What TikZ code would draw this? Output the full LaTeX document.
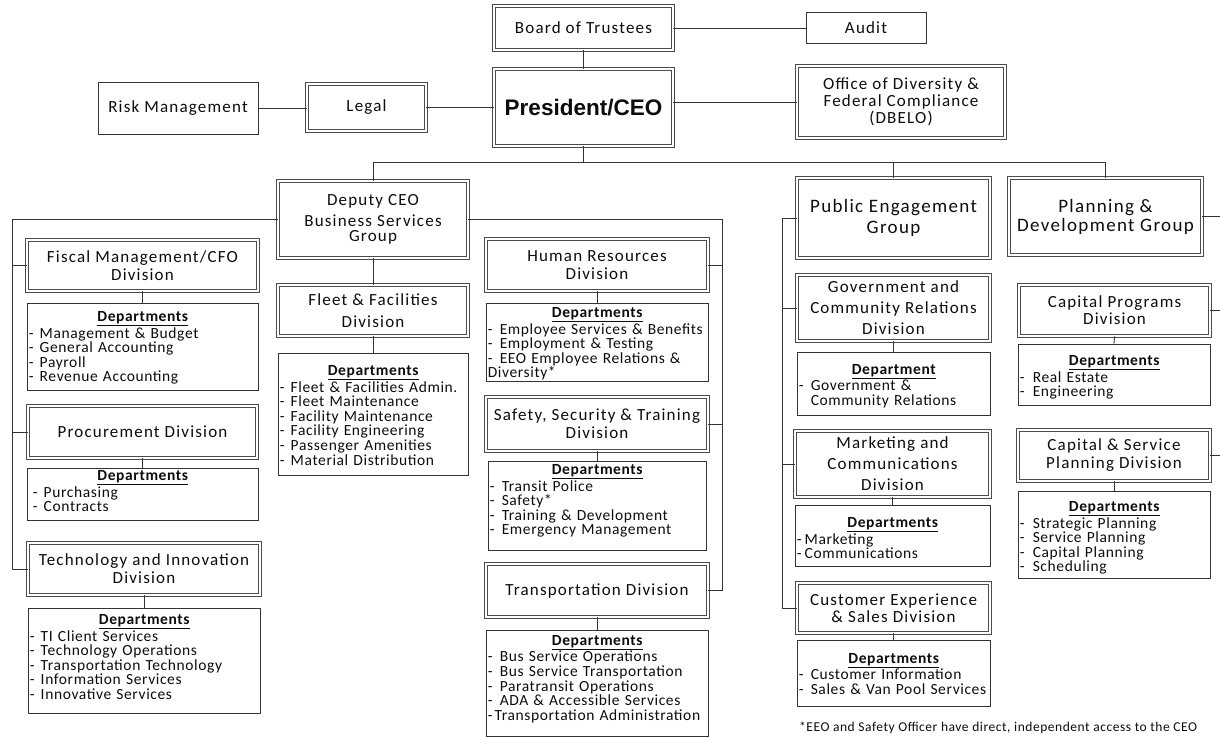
\documentclass[tikz,border=0pt]{standalone}
\usepackage{fontspec}
\setmainfont{Carlito}
\newfontfamily\tfont{Carlito}[LetterSpace=7]
\newfontfamily\lfont{Carlito}[LetterSpace=4]
\newfontfamily\pfont{Liberation Sans}
\usetikzlibrary{calc}
\newcommand\mkbox[7]{\node[#2, minimum width={#5-#3}, minimum height={#6-#4}] (#1) at ({(#3+#5)/2},{(#4+#6)/2}) {#7};}
\newcommand\dept[7]{\pgfmathsetmacro\tw{#4-#2-3}%
  \node[frame, minimum width={#4-#2}, minimum height={#5-#3}] (#1) at ({(#2+#4)/2},{(#3+#5)/2}) {};
  \node[list, text width=\tw pt, anchor=north west] (#1t) at ($(#1.north west)+(2,#6+3)$) {#7};}
\newcommand\dhead[1][Departments]{{\centering\textbf{\underline{#1}}\par}}
\newcommand\ditem[2][11]{\makebox[#1pt][l]{-}#2\par}
\tikzset{
  x=1pt, y=-1pt,
  dbl/.style={draw=black!70, line width=0.7pt, double=white, double distance=2pt, align=center, inner sep=1pt, text=black!95,
    font=\tfont\fontsize{17}{18}\selectfont},
  grp/.style={dbl, font=\tfont\fontsize{19}{20}\selectfont},
  sgl/.style={draw=black!80, line width=0.9pt, align=center, inner sep=1pt, text=black!95,
    font=\tfont\fontsize{17}{18}\selectfont},
  frame/.style={draw=black!80, line width=0.9pt, inner sep=0pt},
  list/.style={align=left, inner sep=0pt, text=black!95, font=\lfont\fontsize{15.5}{14.6}\selectfont},
  conn/.style={draw=black!80, line width=0.9pt},
  foot/.style={inner sep=0pt, text=black!95, font=\lfont\fontsize{13.5}{14}\selectfont},
}
\begin{document}
\begin{tikzpicture}
\useasboundingbox[fill=white] (0,0) rectangle (1220,738);
% top level
\mkbox{board}{dbl}{494}{6}{673}{50}{Board of Trustees}
\mkbox{audit}{sgl}{806}{12}{926}{43}{Audit}
\mkbox{risk}{sgl}{98}{82}{258}{134}{Risk Management}
\mkbox{legal}{dbl}{307}{84}{426}{131}{Legal}
\mkbox{pres}{dbl}{494}{69}{673}{146}{\pfont\bfseries\fontsize{22.5}{26}\selectfont President/CEO}
\mkbox{odfc}{dbl}{797}{66}{1005}{138}{Office of Diversity \&\\[-1pt]Federal Compliance\\[-1pt](DBELO)}
% groups
\mkbox{deputy}{dbl}{278}{181}{468}{258}{Deputy CEO\\[3pt]Business Services\\[-3pt]Group}
\mkbox{pub}{grp}{797}{178}{990}{258}{Public Engagement\\[1pt]Group}
\mkbox{plan}{grp}{1009}{178}{1202}{255}{Planning \&\\[-1pt]Development Group}
% business services divisions
\mkbox{fiscal}{dbl}{27}{240}{258}{291}{Fiscal Management/CFO\\Division}
\dept{fiscald}{27}{303}{258}{390}{6}{\dhead
\ditem{Management \& Budget}\ditem{General Accounting}\ditem{Payroll}\ditem{Revenue Accounting}}
\mkbox{proc}{dbl}{28}{406}{257}{458}{Procurement Division}
\dept{procd}{27}{468}{258}{520}{0}{\dhead
\hspace*{4pt}\ditem{Purchasing}\hspace*{4pt}\ditem{Contracts}}
\mkbox{tech}{dbl}{28}{543}{260}{595}{Technology and Innovation\\Division}
\dept{techd}{28}{608}{260}{713}{4}{\dhead
\ditem{TI Client Services}\ditem{Technology Operations}\ditem{Transportation Technology}\ditem{Information Services}\ditem{Innovative Services}}
\mkbox{fleet}{dbl}{278}{285}{468}{336}{Fleet \& Facilities\\[4pt]Division}
\dept{fleetd}{278}{353}{468}{475}{10}{\dhead
\ditem{Fleet \& Facilities Admin.}\ditem{Fleet Maintenance}\ditem{Facility Maintenance}\ditem{Facility Engineering}\ditem{Passenger Amenities}\ditem{Material Distribution}}
\mkbox{hr}{dbl}{486}{239}{708}{291}{Human Resources\\Division}
\dept{hrd}{486}{303}{708}{381}{2}{\dhead
\ditem[12]{Employee Services \& Benefits}\ditem[12]{Employment \& Testing}\ditem[12]{EEO Employee Relations \&}Diversity*\par}
\mkbox{safety}{dbl}{486}{397}{708}{451}{Safety, Security \& Training\\Division}
\dept{safetyd}{488}{461}{706}{550}{1}{\dhead
\ditem[12]{Transit Police}\ditem[12]{Safety*}\ditem[12]{Training \& Development}\ditem[12]{Emergency Management}}
\mkbox{trans}{dbl}{486}{564}{708}{617}{Transportation Division}
\dept{transd}{486}{630}{708}{736}{3}{\dhead
\ditem[12]{Bus Service Operations}\ditem[12]{Bus Service Transportation}\ditem[12]{Paratransit Operations}\ditem[12]{ADA \& Accessible Services}\ditem[7]{Transportation Administration}}
% public engagement divisions
\mkbox{gov}{dbl}{797}{275}{990}{341}{Government and\\[3pt]Community Relations\\[3pt]Division}
\dept{govd}{797}{352}{990}{415}{10}{\dhead[Department]
\ditem[12]{Government \&}\hspace*{12pt}Community Relations\par}
\mkbox{mkt}{dbl}{795}{431}{990}{497}{Marketing and\\[3pt]Communications\\[3pt]Division}
\dept{mktd}{795}{505}{990}{566}{10}{\dhead
\ditem[8]{Marketing}\ditem[8]{Communications}}
\mkbox{cust}{dbl}{797}{583}{990}{633}{Customer Experience\\[-1pt]\& Sales Division}
\dept{custd}{797}{640}{990}{706}{11}{\dhead
\ditem[12]{Customer Information}\ditem[12]{Sales \& Van Pool Services}}
% planning divisions
\mkbox{cap}{dbl}{1019}{285}{1210}{336}{Capital Programs\\[-1pt]Division}
\dept{capd}{1018}{344}{1210}{405}{9}{\dhead
\ditem[13]{Real Estate}\ditem[13]{Engineering}}
\mkbox{csp}{dbl}{1018}{430}{1210}{481}{Capital \& Service\\Planning Division}
\dept{cspd}{1018}{491}{1210}{578}{8}{\dhead
\ditem[13]{Strategic Planning}\ditem[13]{Service Planning}\ditem[13]{Capital Planning}\ditem[13]{Scheduling}}
\node[foot, anchor=west] (note) at (799,728) {*EEO and Safety Officer have direct, independent access to the CEO};
% connectors
\coordinate (bus) at (584,162);
\coordinate (lb) at (12,0);
\coordinate (rb) at (722,0);
\coordinate (pb) at (782,0);
\coordinate (edge) at (1220,0);
\draw[conn] (board.east) -- (board.east -| audit.west);
\draw[conn] (board.south) -- (board.south |- pres.north);
\draw[conn] (risk.east) -- (risk.east -| legal.west);
\draw[conn] (legal.east) -- (legal.east -| pres.west);
\draw[conn] (pres.east |- odfc.west) -- (odfc.west);
\draw[conn] (pres.south) -- (pres.south |- bus);
\draw[conn] (deputy.north) |- (plan.north |- bus) -- (plan.north);
\draw[conn] (pub.north |- bus) -- (pub.north);
% business services
\draw[conn] (deputy.west) -| (lb |- tech.west) -- (tech.west);
\draw[conn] (lb |- fiscal.west) -- (fiscal.west);
\draw[conn] (lb |- proc.west) -- (proc.west);
\draw[conn] (deputy.east) -| (rb |- trans.east) -- (trans.east);
\draw[conn] (rb |- hr.east) -- (hr.east);
\draw[conn] (rb |- safety.east) -- (safety.east);
\draw[conn] (deputy.south) -- (fleet.north);
\draw[conn] (fleet.south) -- (fleetd.north);
\draw[conn] (fiscal.south) -- (fiscald.north);
\draw[conn] (proc.south) -- (procd.north);
\draw[conn] (tech.south) -- (techd.north);
\draw[conn] (hr.south) -- (hrd.north);
\draw[conn] (safety.south) -- (safetyd.north);
\draw[conn] (trans.south) -- (transd.north);
% public engagement
\draw[conn] (pub.west) -| (pb |- cust.west) -- (cust.west);
\draw[conn] (pb |- gov.west) -- (gov.west);
\draw[conn] (pb |- mkt.west) -- (mkt.west);
\draw[conn] (gov.south) -- (govd.north);
\draw[conn] (mkt.south) -- (mktd.north);
\draw[conn] (cust.south) -- (custd.north);
% planning
\draw[conn] (plan.east) -- (plan.east -| edge);
\draw[conn] (cap.east) -- (cap.east -| edge);
\draw[conn] (csp.east) -- (csp.east -| edge);
\draw[conn] (cap.south) -- (capd.north);
\draw[conn] (csp.south) -- (cspd.north);
\end{tikzpicture}
\end{document}
